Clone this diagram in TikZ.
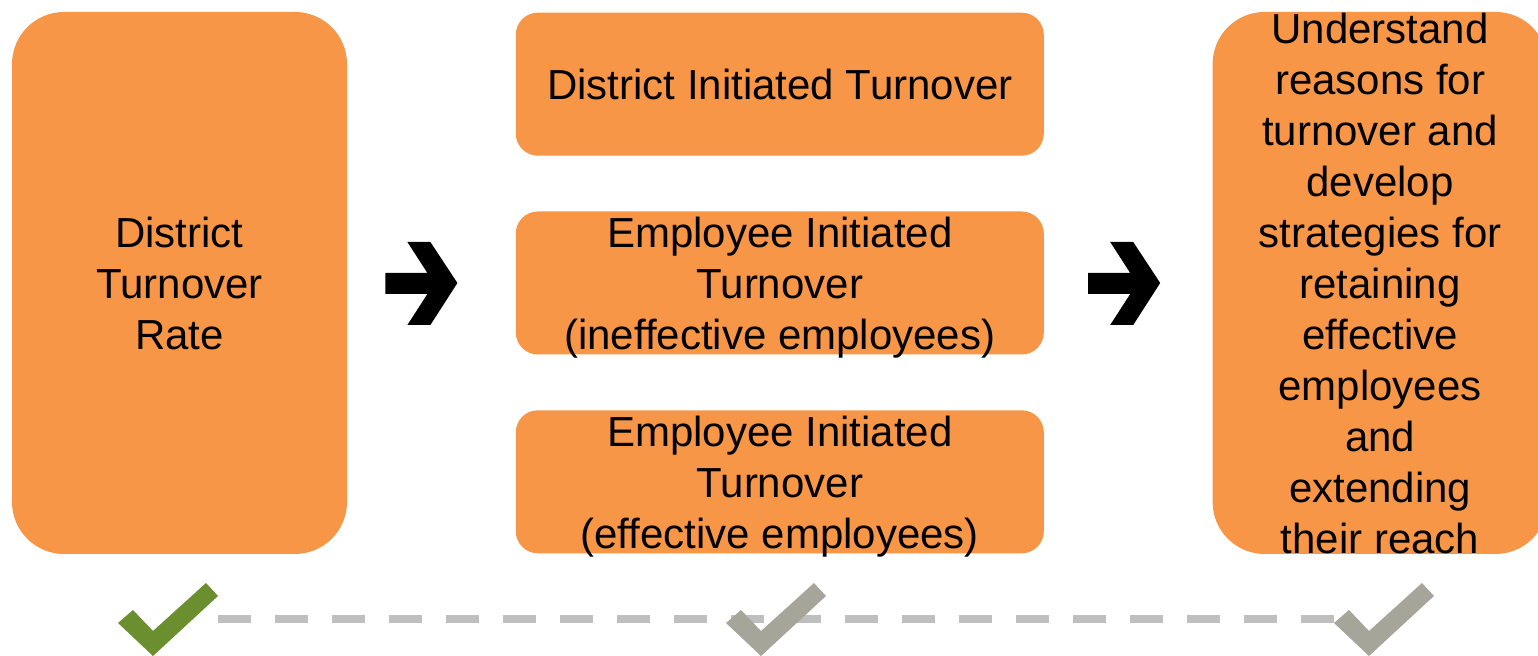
\documentclass[tikz,border=0pt]{standalone}
\usepackage{fontspec}
\setmainfont{Liberation Sans}
\usetikzlibrary{positioning, calc}

\definecolor{boxorange}{HTML}{F79646}
\definecolor{tickgreen}{HTML}{6B8E2E}
\definecolor{tickgrey}{HTML}{A6A59A}
\definecolor{trackgrey}{HTML}{BFBFBF}

\tikzset{
  tall/.style={fill=boxorange, rounded corners=26pt, minimum width=167.5pt, minimum height=271pt, inner sep=0pt, align=center},
  wide/.style={fill=boxorange, rounded corners=11pt, minimum width=264pt, minimum height=71.5pt, inner sep=0pt, align=center},
  threeline/.style={text height=69pt, text depth=2.5pt},
  track/.style={draw=trackgrey, line width=4pt, dash pattern=on 16.5pt off 12pt},
  pics/bigarrow/.style={code={
    \fill (-36,-10) -- (6,-10) -- (-14,-41) -- (9,-41) -- (36,0) -- (9,42) -- (-14,42) -- (6,11) -- (-36,11) -- cycle;}},
  pics/tick/.style={code={
    \fill[#1] (-50,4) -- (-35,-9) -- (-15,12) -- (38,-36) -- (50,-23) -- (-15,37) -- cycle;}},
}

\begin{document}
\begin{tikzpicture}[x=0.5pt, y=-0.5pt, font=\fontsize{21}{25.5}\selectfont]
    \useasboundingbox (0,0) rectangle (1538,656);
    \clip (0,0) rectangle (1538,656);

    \node[tall] (rate) at (179.5,283) {District\\Turnover\\Rate};
    \node[wide, threeline, right=84pt of rate] (empbad) {Employee Initiated\\Turnover\\(ineffective employees)};
    \node[wide, above=27.5pt of empbad] (distinit) {District Initiated Turnover};
    \node[wide, threeline, below=27.5pt of empbad] (empgood) {Employee Initiated\\Turnover\\(effective employees)};
    \node[tall, right=84pt of empbad] (goal) {};
    \node[align=center] (goaltext) at (goal.center) {Understand\\reasons for\\turnover and\\develop\\strategies for\\retaining\\effective\\employees\\and\\extending\\their reach};

    % arrows between the columns
    \pic at ($(rate.east)!0.5!(empbad.west)+(-10,0)$) {bigarrow};
    \pic at ($(empbad.east)!0.5!(goal.west)+(-4,0)$) {bigarrow};

    % progress track
    \coordinate (okRate) at (168,619);
    \coordinate (okKinds) at (776,619);
    \coordinate (okGoal) at (1384,619);
    \draw[track] ([xshift=25pt]okRate) -- ([xshift=-24pt]okGoal);
    \pic at (okRate) {tick=tickgreen};
    \pic at (okKinds) {tick=tickgrey};
    \pic at (okGoal) {tick=tickgrey};
\end{tikzpicture}
\end{document}
